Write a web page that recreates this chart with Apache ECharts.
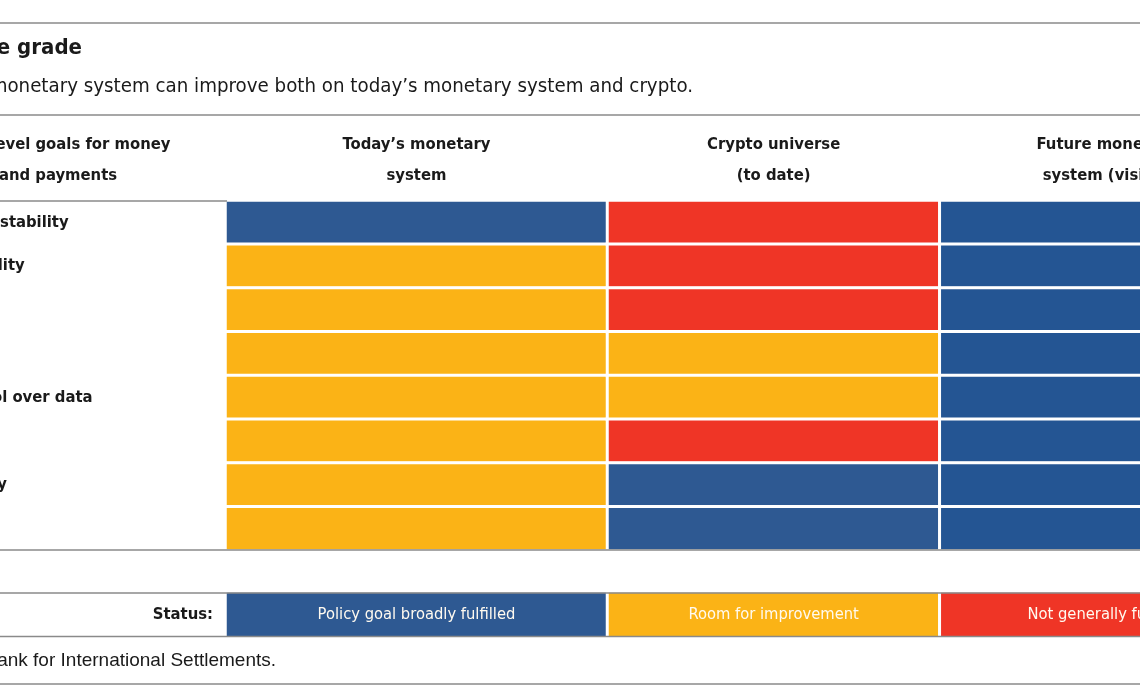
<!DOCTYPE html>
<html>
<head>
<meta charset="utf-8">
<script src="https://cdn.jsdelivr.net/npm/echarts@6/dist/echarts.min.js"></script>
<style>
html,body{margin:0;padding:0;background:#fff;}
#chart{width:1140px;height:694px;}
</style>
</head>
<body>
<div id="chart"></div>
<script>
// ---- data ----
const titleText = 'Making the grade';
const subtitleText = 'The future monetary system can improve both on today’s monetary system and crypto.';
const goalsHeader = 'High-level goals for money\nand payments';
const goals = ['Safety and stability', 'Accountability', 'Efficiency', 'Inclusion',
  'User control over data', 'Integrity', 'Adaptability', 'Openness'];
const systems = ['Today’s monetary\nsystem', 'Crypto universe\n(to date)', 'Future monetary\nsystem (vision)'];
const statusNames = ['Policy goal broadly fulfilled', 'Room for improvement', 'Not generally fulfilled'];
// 0 = broadly fulfilled, 1 = room for improvement, 2 = not generally fulfilled
const todayStatus = [0, 1, 1, 1, 1, 1, 1, 1];
const cryptoStatus = [2, 2, 2, 1, 1, 2, 0, 0];
const futureStatus = [0, 0, 0, 0, 0, 0, 0, 0];
const statusLabel = 'Status:';
const sourceText = 'Source: Bank for International Settlements.';

// ---- styling ----
const NARROW = "'Liberation Sans Narrow', 'DejaVu Sans Condensed', 'Noto Sans', sans-serif";
const REG = "'Liberation Sans', 'Noto Sans', sans-serif";
const INK = '#1a1a1a';
const RULE = '#8a8a8a';
const statusColors = [['#2E5992', '#FBB316', '#EF3526'], ['#2E5992', '#FBB316', '#EF3526'], ['#245593', '#FBB316', '#EF3526']];
const colLeft = [225.5, 607.5, 939.8];
const colWidth = [382, 332.3, 334];
const allStatus = [todayStatus, cryptoStatus, futureStatus];
const BOLD_SIZE = 16.5;

const grids = [], xAxes = [], yAxes = [], series = [];
for (let c = 0; c < 3; c++) {
  grids.push({left: colLeft[c], width: colWidth[c], top: 200.5, height: 350, containLabel: false, outerBoundsMode: 'none'});
  xAxes.push({
    gridIndex: c, type: 'category', data: [systems[c]], position: 'top',
    axisLine: {show: false}, axisTick: {show: false}, splitLine: {show: false},
    axisLabel: {interval: 0, margin: 9, fontFamily: NARROW, fontWeight: 'bold', fontSize: BOLD_SIZE, lineHeight: 31, color: INK}
  });
  yAxes.push({
    gridIndex: c, type: 'category', data: goals, inverse: true,
    axisLine: {show: false}, axisTick: {show: false}, splitLine: {show: false},
    axisLabel: c === 0 ? {show: true, align: 'left', margin: 321, fontFamily: NARROW, fontWeight: 'bold', fontSize: BOLD_SIZE, color: INK} : {show: false}
  });
  series.push({
    type: 'heatmap', xAxisIndex: c, yAxisIndex: c,
    data: allStatus[c].map((s, i) => ({value: [0, i, s], itemStyle: {color: statusColors[c][s]}})),
    itemStyle: {borderColor: '#fff', borderWidth: 3},
    emphasis: {disabled: true}
  });
}
for (let c = 0; c < 3; c++) {
  const g = 3 + c;
  grids.push({left: colLeft[c], width: colWidth[c], top: 591.5, height: 46, containLabel: false, outerBoundsMode: 'none'});
  xAxes.push({gridIndex: g, type: 'category', data: [''], show: false});
  yAxes.push({
    gridIndex: g, type: 'category', data: [statusLabel],
    axisLine: {show: false}, axisTick: {show: false}, splitLine: {show: false},
    axisLabel: c === 0 ? {show: true, margin: 12.5, fontFamily: NARROW, fontWeight: 'bold', fontSize: BOLD_SIZE, color: INK} : {show: false}
  });
  series.push({
    type: 'heatmap', xAxisIndex: g, yAxisIndex: g,
    data: [{value: [0, 0, c], itemStyle: {color: statusColors[0][c]}}],
    itemStyle: {borderColor: '#fff', borderWidth: 3},
    label: {show: true, formatter: p => statusNames[p.value[2]], color: '#fffaf0', fontFamily: NARROW, fontSize: 16.4},
    emphasis: {disabled: true}
  });
}

function hline(y, x1, x2) {
  return {type: 'line', z: 100, shape: {x1: x1, y1: y, x2: x2, y2: y}, style: {stroke: RULE, lineWidth: 1.5}};
}
const graphic = [
  hline(23, 0, 1140), hline(115, 0, 1140), hline(201, 0, 227),
  hline(550, 0, 1140), hline(593, 0, 1140), hline(636.5, 0, 1140), hline(684, 0, 1140),
  {type: 'text', z: 100, style: {text: titleText, x: 82, y: 48, textAlign: 'right', textVerticalAlign: 'middle', fill: INK, font: "bold 22px " + NARROW}},
  {type: 'text', z: 100, style: {text: subtitleText, x: 693, y: 87, textAlign: 'right', textVerticalAlign: 'middle', fill: INK, font: "20.3px " + NARROW}},
  {type: 'text', z: 100, style: {text: goalsHeader, x: 58, y: 160.5, textAlign: 'center', textVerticalAlign: 'middle', lineHeight: 31, fill: INK, font: "bold " + BOLD_SIZE + "px " + NARROW}},
  {type: 'text', z: 100, style: {text: sourceText, x: 276, y: 661, textAlign: 'right', textVerticalAlign: 'middle', fill: INK, font: "19px " + REG}}
];

const chart = echarts.init(document.getElementById('chart'), null, {renderer: 'canvas'});
chart.setOption({
  animation: false,
  backgroundColor: '#fff',
  grid: grids, xAxis: xAxes, yAxis: yAxes, series: series, graphic: graphic
});
</script>
</body>
</html>
